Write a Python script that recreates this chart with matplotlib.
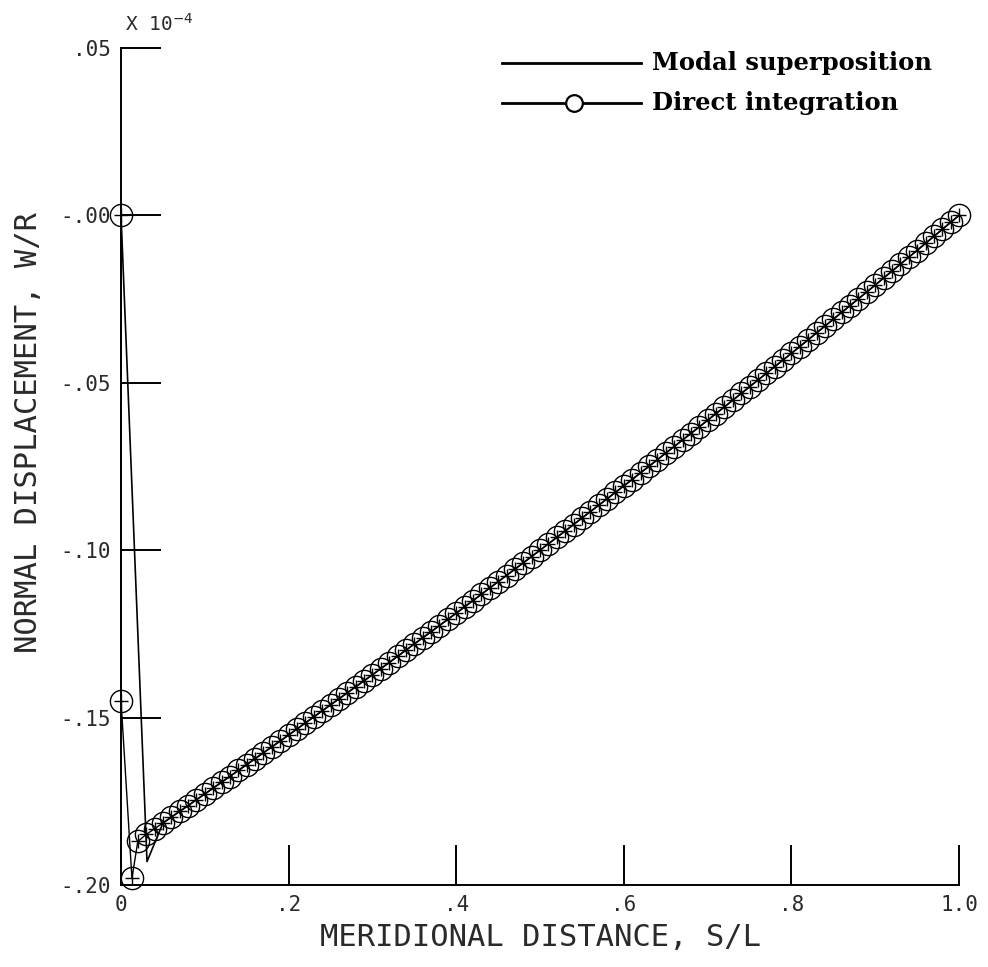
import matplotlib
matplotlib.use("Agg")
import matplotlib.pyplot as plt

# meridional distance S/L and normal displacement W/R (x 1e-4)
modal_s = [0.0, 0.031, 0.05, 0.1, 0.2, 0.3, 0.4, 0.5, 0.6, 0.7, 0.8, 0.9, 1.0]
modal_w = [0.0, -0.193, -0.1815, -0.1728, -0.1552, -0.1372, -0.1188,
           -0.1000, -0.0808, -0.0612, -0.0412, -0.0208, 0.0]

# direct integration: first few points near the clamped edge
direct_head_s = [0.0, 0.0, 0.013, 0.02]
direct_head_w = [0.0, -0.145, -0.198, -0.187]

# then one point every 0.01 from s = .03 to 1.0
direct_w = [
    -0.1849, -0.1832, -0.1815, -0.1797, -0.1780, -0.1763, -0.1745, -0.1728,
    -0.1711, -0.1693, -0.1676, -0.1658, -0.1641, -0.1623, -0.1605, -0.1588,
    -0.1570, -0.1552, -0.1534, -0.1516, -0.1498, -0.1480, -0.1462, -0.1444,
    -0.1426, -0.1408, -0.1390, -0.1372, -0.1354, -0.1336, -0.1317, -0.1299,
    -0.1280, -0.1262, -0.1244, -0.1225, -0.1207, -0.1188, -0.1169, -0.1151,
    -0.1132, -0.1113, -0.1094, -0.1076, -0.1057, -0.1038, -0.1019, -0.1000,
    -0.0981, -0.0962, -0.0943, -0.0924, -0.0904, -0.0885, -0.0866, -0.0847,
    -0.0827, -0.0808, -0.0789, -0.0769, -0.0750, -0.0730, -0.0710, -0.0691,
    -0.0671, -0.0652, -0.0632, -0.0612, -0.0592, -0.0572, -0.0552, -0.0532,
    -0.0512, -0.0492, -0.0472, -0.0452, -0.0432, -0.0412, -0.0392, -0.0372,
    -0.0351, -0.0331, -0.0310, -0.0290, -0.0270, -0.0249, -0.0229, -0.0208,
    -0.0187, -0.0167, -0.0146, -0.0125, -0.0105, -0.0084, -0.0063, -0.0042,
    -0.0021, 0.0000,
]
direct_s = [round(0.03 + 0.01 * i, 2) for i in range(len(direct_w))]

xticks = [0.0, 0.2, 0.4, 0.6, 0.8, 1.0]
xticklabels = ["0", ".2", ".4", ".6", ".8", "1.0"]
yticks = [0.05, 0.0, -0.05, -0.10, -0.15, -0.20]
yticklabels = [".05", "-.00", "-.05", "-.10", "-.15", "-.20"]

ink = "#2a2a2a"
plot_font = "DejaVu Sans Mono"

fig = plt.figure(figsize=(9.88, 9.67), dpi=100)
ax = fig.add_axes([0.1225, 0.0848, 0.8482, 0.8656])

all_s = direct_head_s + direct_s
all_w = direct_head_w + direct_w

ax.plot(modal_s, modal_w, color="black", lw=1.2, clip_on=False)
ax.plot(all_s, all_w, color="black", lw=1.0, clip_on=False)
ax.plot(all_s, all_w, ls="none", marker="o", ms=16, mfc="none",
        mec="black", mew=1.0, clip_on=False)
ax.plot(all_s, all_w, ls="none", marker="+", ms=10, mec="black",
        mew=1.0, clip_on=False)

ax.set_xlim(0, 1.0)
ax.set_ylim(-0.20, 0.05)
for side in ["top", "right"]:
    ax.spines[side].set_visible(False)
for side in ["left", "bottom"]:
    ax.spines[side].set_linewidth(1.4)

ax.set_xticks(xticks)
ax.set_xticklabels(xticklabels)
ax.set_yticks(yticks)
ax.set_yticklabels(yticklabels)
ax.tick_params(direction="in", length=29, width=1.4, colors="black",
               labelcolor=ink, labelsize=15, pad=7)
for lab in ax.get_xticklabels() + ax.get_yticklabels():
    lab.set_family(plot_font)

ax.set_xlabel("MERIDIONAL DISTANCE, S/L", fontsize=22, color=ink,
              family=plot_font, labelpad=6)
ax.set_ylabel("NORMAL DISPLACEMENT, W/R", fontsize=22, color=ink,
              family=plot_font, va="center")
ax.yaxis.set_label_coords(-0.111, 0.54)

fig.text(0.127, 0.975, "X 10$^{-4}$", fontsize=14, color=ink,
         family=plot_font, va="center")

# legend drawn by hand, upper right
legend_font = "DejaVu Serif"
ax.plot([0.455, 0.62], [0.982, 0.982], transform=ax.transAxes,
        color="black", lw=2.0, clip_on=False)
ax.text(0.634, 0.982, "Modal superposition", transform=ax.transAxes,
        fontsize=17.5, fontweight="bold", family=legend_font, va="center")
ax.plot([0.455, 0.62], [0.934, 0.934], transform=ax.transAxes,
        color="black", lw=2.0, clip_on=False)
ax.plot([0.54], [0.934], transform=ax.transAxes, marker="o", ms=12,
        mfc="white", mec="black", mew=1.6, clip_on=False)
ax.text(0.634, 0.934, "Direct integration", transform=ax.transAxes,
        fontsize=17.5, fontweight="bold", family=legend_font, va="center")

fig.savefig("out.png", dpi=100)
